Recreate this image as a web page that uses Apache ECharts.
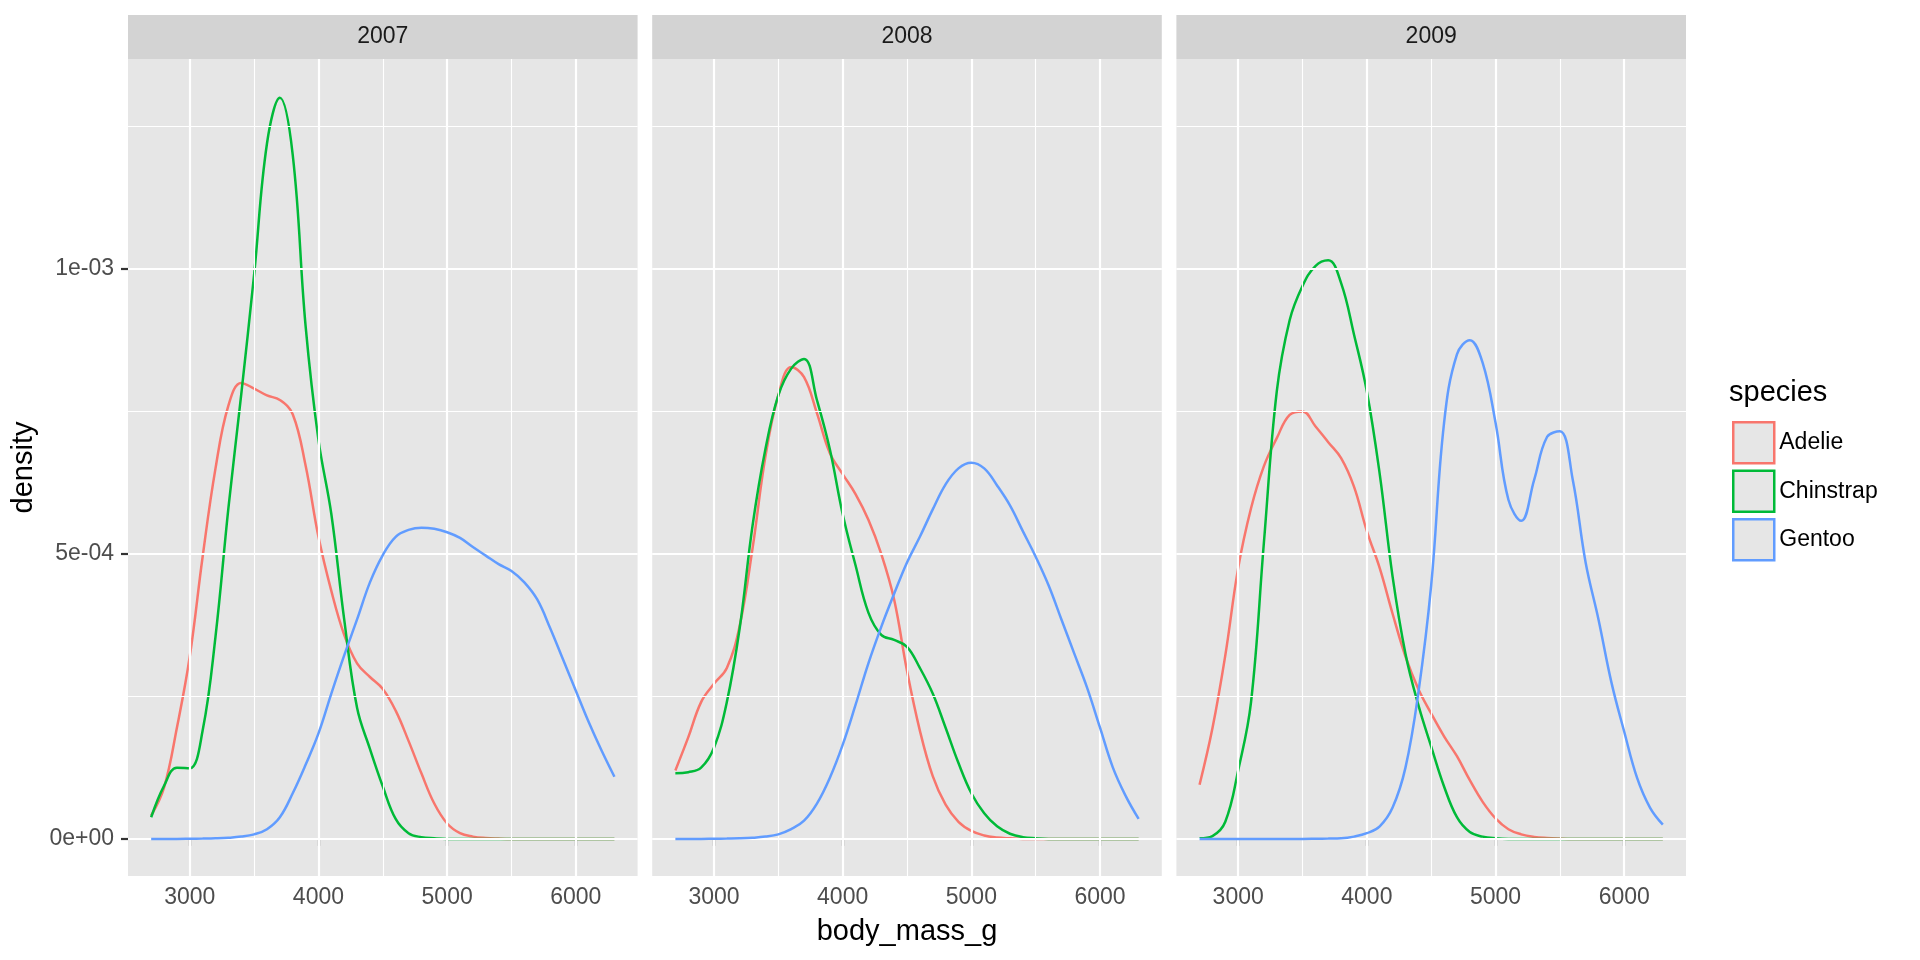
<!DOCTYPE html>
<html>
<head>
<meta charset="utf-8">
<script src="https://cdn.jsdelivr.net/npm/echarts@6/dist/echarts.min.js"></script>
<style>
html,body{margin:0;padding:0;background:#ffffff;}
#chart{width:1920px;height:960px;}
</style>
</head>
<body>
<div id="chart"></div>
<script>
// ---------------- data ----------------
const years = ['2007', '2008', '2009'];
const speciesNames = ['Adelie', 'Chinstrap', 'Gentoo'];
const speciesColors = ['#F8766D', '#00BA38', '#619CFF'];

// body_mass_g evaluation points
const bodyMass = [2700, 2800, 2900, 3000, 3100, 3200, 3300, 3400, 3500, 3600,
                  3700, 3800, 3900, 4000, 4100, 4200, 4300, 4400, 4500, 4600,
                  4700, 4800, 4900, 5000, 5100, 5200, 5300, 5400, 5500, 5600,
                  5700, 5800, 5900, 6000, 6100, 6200, 6300];

// densities, in units of 1e-4
const DENSITY_UNIT = 1e-4;
const adelie2007 = [0.41, 0.9, 1.95, 3.2, 4.95, 6.5, 7.6, 8.0, 7.9, 7.78,
                    7.7, 7.45, 6.55, 5.3, 4.35, 3.58, 3.08, 2.84, 2.63, 2.25,
                    1.72, 1.15, 0.62, 0.27, 0.1, 0.04, 0.015, 0.005, 0, 0,
                    0, 0, 0, 0, 0, 0, 0];
const chinstrap2007 = [0.38, 0.93, 1.25, 1.24, 1.9, 3.55, 5.8, 7.8, 9.9, 12.2,
                       13.0, 12.0, 9.0, 7.0, 5.7, 3.85, 2.3, 1.58, 0.92, 0.35,
                       0.1, 0.03, 0.01, 0, 0, 0, 0, 0, 0, 0,
                       0, 0, 0, 0, 0, 0, 0];
const gentoo2007 = [0, 0, 0, 0.002, 0.005, 0.01, 0.02, 0.04, 0.08, 0.17,
                    0.38, 0.8, 1.3, 1.85, 2.55, 3.22, 3.85, 4.5, 4.98, 5.3,
                    5.42, 5.46, 5.44, 5.38, 5.28, 5.12, 4.97, 4.82, 4.7, 4.5,
                    4.2, 3.7, 3.15, 2.6, 2.05, 1.55, 1.09];

const adelie2008 = [1.2, 1.78, 2.4, 2.72, 3.0, 3.74, 5.1, 6.71, 7.78, 8.28,
                    8.1, 7.47, 6.77, 6.4, 6.05, 5.6, 5.0, 4.2, 2.95, 1.9,
                    1.1, 0.6, 0.3, 0.14, 0.06, 0.025, 0.01, 0, 0, 0,
                    0, 0, 0, 0, 0, 0, 0];
const chinstrap2008 = [1.15, 1.17, 1.25, 1.6, 2.4, 3.7, 5.5, 6.84, 7.78, 8.25,
                       8.42, 7.7, 6.84, 5.7, 4.8, 3.97, 3.58, 3.49, 3.37, 3.0,
                       2.55, 1.95, 1.33, 0.8, 0.45, 0.22, 0.09, 0.03, 0.01, 0,
                       0, 0, 0, 0, 0, 0, 0];
const gentoo2008 = [0, 0, 0, 0.003, 0.006, 0.01, 0.02, 0.04, 0.08, 0.17,
                    0.32, 0.62, 1.07, 1.65, 2.35, 3.08, 3.72, 4.3, 4.85, 5.3,
                    5.78, 6.22, 6.5, 6.6, 6.5, 6.2, 5.85, 5.4, 4.95, 4.45,
                    3.85, 3.25, 2.65, 1.95, 1.25, 0.75, 0.35];

const adelie2009 = [0.95, 1.94, 3.22, 4.75, 5.8, 6.54, 7.03, 7.44, 7.5, 7.24,
                    6.96, 6.68, 6.18, 5.4, 4.75, 3.95, 3.2, 2.63, 2.2, 1.8,
                    1.45, 1.03, 0.65, 0.36, 0.17, 0.08, 0.035, 0.015, 0.005, 0,
                    0, 0, 0, 0, 0, 0, 0];
const chinstrap2009 = [0.01, 0.05, 0.3, 1.2, 2.4, 5.2, 7.85, 9.1, 9.7, 10.05,
                       10.15, 9.75, 8.85, 7.85, 6.4, 4.6, 3.25, 2.35, 1.62, 0.92,
                       0.38, 0.12, 0.04, 0.01, 0, 0, 0, 0, 0, 0,
                       0, 0, 0, 0, 0, 0, 0];
const gentoo2009 = [0, 0, 0, 0, 0, 0, 0, 0, 0, 0.002,
                    0.005, 0.01, 0.04, 0.1, 0.22, 0.55, 1.25, 2.56, 4.45, 7.3,
                    8.5, 8.75, 8.35, 7.3, 5.95, 5.58, 6.3, 7.05, 7.15, 6.3,
                    4.85, 3.85, 2.75, 1.88, 1.07, 0.55, 0.25];

const panelSeries = [
  [adelie2007, chinstrap2007, gentoo2007],
  [adelie2008, chinstrap2008, gentoo2008],
  [adelie2009, chinstrap2009, gentoo2009]
];

// scales / breaks
const xLimits = [2520, 6480];
const xTickValues = [3000, 4000, 5000, 6000];
const xTickLabels = ['3000', '4000', '5000', '6000'];
const xMinorBreaks = [3500, 4500, 5500];
const yLimits = [-0.0000651, 0.0013682];
const yTickValues = [0, 0.0005, 0.001];
const yTickLabels = ['0e+00', '5e-04', '1e-03'];
const yMinorBreaks = [0.00025, 0.00075, 0.00125];

// ---------------- layout ----------------
const FONT = '"Liberation Sans", Arial, Helvetica, sans-serif';
const panelLeft = [128, 652.2, 1176.4];
const panelWidth = 509.6;
const panelTop = 59;
const panelHeight = 817;
const stripTop = 15;
const stripHeight = 44;
const PANEL_BG = '#E6E6E6';
const STRIP_BG = '#D3D3D3';

const chart = echarts.init(document.getElementById('chart'), null, {renderer: 'canvas'});

const grids = [], xAxes = [], yAxes = [], series = [], graphics = [];

panelLeft.forEach((left, i) => {
  grids.push({
    left: left, top: panelTop, width: panelWidth, height: panelHeight,
    show: true, backgroundColor: PANEL_BG, borderWidth: 0, containLabel: false
  });
  xAxes.push({
    type: 'value', gridIndex: i, min: xLimits[0], max: xLimits[1],
    axisLine: {show: false},
    axisTick: {show: true, length: 7, customValues: xTickValues,
               lineStyle: {color: '#333333', width: 2.2}},
    axisLabel: {show: true, customValues: xTickValues, margin: 10,
                color: '#4D4D4D', fontSize: 23, fontFamily: FONT,
                formatter: v => xTickLabels[xTickValues.indexOf(v)]},
    splitLine: {show: false}, minorSplitLine: {show: false},
    name: i === 1 ? 'body_mass_g' : '',
    nameLocation: 'middle', nameGap: 41,
    nameTextStyle: {color: '#000000', fontSize: 29, fontFamily: FONT}
  });
  yAxes.push({
    type: 'value', gridIndex: i, min: yLimits[0], max: yLimits[1],
    axisLine: {show: false},
    axisTick: {show: i === 0, length: 7, customValues: yTickValues,
               lineStyle: {color: '#333333', width: 2.2}},
    axisLabel: {show: i === 0, customValues: yTickValues, margin: 14,
                color: '#4D4D4D', fontSize: 23, fontFamily: FONT,
                formatter: v => yTickLabels[yTickValues.indexOf(v)]},
    splitLine: {show: false}, minorSplitLine: {show: false},
    name: i === 0 ? 'density' : '',
    nameLocation: 'middle', nameGap: 90, nameRotate: 90,
    nameTextStyle: {color: '#000000', fontSize: 29, fontFamily: FONT}
  });

  // panel grid lines (drawn through the axis scales)
  const gl = [];
  xMinorBreaks.forEach(v => gl.push({xAxis: v, lineStyle: {color: '#ffffff', width: 1.1, type: 'solid'}}));
  yMinorBreaks.forEach(v => gl.push({yAxis: v, lineStyle: {color: '#ffffff', width: 1.1, type: 'solid'}}));
  xTickValues.forEach(v => gl.push({xAxis: v, lineStyle: {color: '#ffffff', width: 2.2, type: 'solid'}}));
  yTickValues.forEach(v => gl.push({yAxis: v, lineStyle: {color: '#ffffff', width: 2.2, type: 'solid'}}));
  series.push({
    type: 'line', xAxisIndex: i, yAxisIndex: i, data: [], z: 1, silent: true,
    animation: false,
    markLine: {silent: true, animation: false, symbol: ['none', 'none'],
               precision: 12,
               label: {show: false}, emphasis: {disabled: true},
               lineStyle: {type: 'solid'}, data: gl}
  });

  // density curves
  panelSeries[i].forEach((vals, s) => {
    series.push({
      type: 'line', name: speciesNames[s], xAxisIndex: i, yAxisIndex: i,
      data: bodyMass.map((m, k) => [m, vals[k] * DENSITY_UNIT]),
      showSymbol: false, symbol: 'none', smooth: 0.4, z: 3 + s,
      animation: false, clip: true,
      lineStyle: {color: speciesColors[s], width: 2.5},
      itemStyle: {color: speciesColors[s]},
      emphasis: {disabled: true}
    });
  });

  // facet strip
  graphics.push({
    type: 'rect', silent: true,
    shape: {x: left, y: stripTop, width: panelWidth, height: stripHeight},
    style: {fill: STRIP_BG}
  });
  graphics.push({
    type: 'text', silent: true,
    x: left + panelWidth / 2, y: stripTop + stripHeight / 2,
    style: {text: years[i], fill: '#1A1A1A', font: '23px ' + FONT,
            align: 'center', verticalAlign: 'middle'}
  });
});

// legend title
graphics.push({
  type: 'text', silent: true, x: 1729, y: 393,
  style: {text: 'species', fill: '#000000', font: '29px ' + FONT,
          align: 'left', verticalAlign: 'middle'}
});

chart.setOption({
  animation: false,
  backgroundColor: '#ffffff',
  grid: grids,
  xAxis: xAxes,
  yAxis: yAxes,
  series: series,
  graphic: graphics,
  legend: {
    orient: 'vertical', left: 1732, top: 421, padding: 0,
    itemWidth: 41, itemHeight: 41, itemGap: 5,
    icon: 'rect', selectedMode: false,
    data: speciesNames.map((n, s) => ({
      name: n,
      itemStyle: {color: PANEL_BG, borderColor: speciesColors[s], borderWidth: 2.5}
    })),
    textStyle: {color: '#000000', fontSize: 23, fontFamily: FONT}
  }
});
</script>
</body>
</html>
